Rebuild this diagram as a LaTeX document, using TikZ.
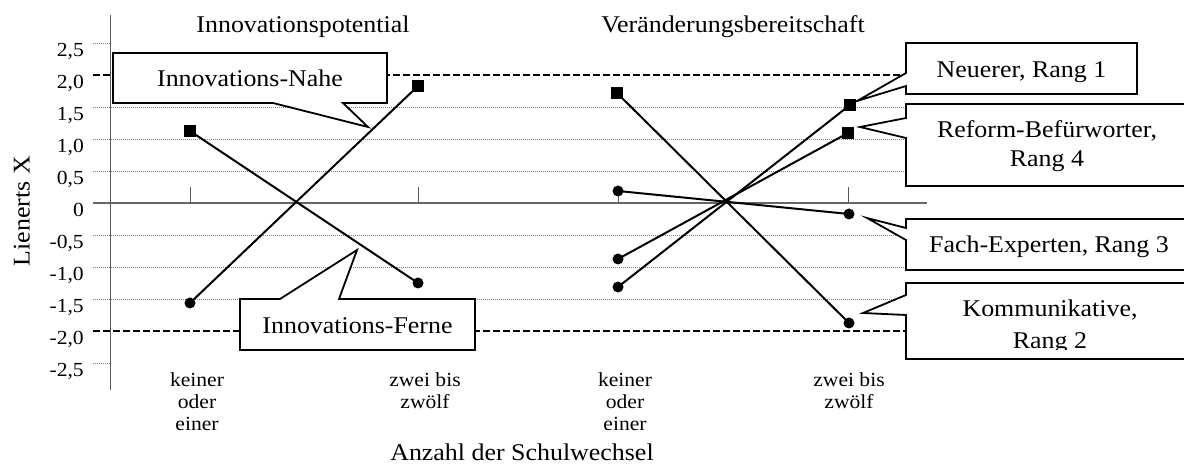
\documentclass[tikz,border=0pt]{standalone}
\usepackage{fontspec}
\setmainfont{Liberation Serif}[FakeStretch=1.08]
\begin{document}
\begin{tikzpicture}[x=1pt,y=-1pt,
  gridl/.style={gray, line width=0.8pt, dash pattern=on 1pt off 1pt},
  twoline/.style={black, line width=1.7pt, dash pattern=on 6.5pt off 3.5pt},
  axisl/.style={gray!70!black, line width=1pt},
  zerol/.style={gray!80!black, line width=1.6pt},
  dataline/.style={black, line width=2pt},
  sq/.style={fill=black, rectangle, minimum size=12pt, inner sep=0pt},
  dot/.style={fill=black, circle, minimum size=11pt, inner sep=0pt},
  callout/.style={draw=black, line width=1.8pt, fill=white, line join=miter},
  ctext/.style={font=\fontsize{24}{30}\selectfont, anchor=base, inner sep=0pt},
  ylab/.style={font=\fontsize{20}{24}\selectfont, anchor=base east, inner sep=0pt},
  ttl/.style={font=\fontsize{24}{28}\selectfont, anchor=base, inner sep=0pt},
  cat/.style={font=\fontsize{20}{22}\selectfont, align=center, anchor=north, inner sep=0pt}]
\clip (0,0) rectangle (1184,470);

% grid lines
\foreach \v in {1.5,1,0.5,-0.5,-1,-1.5}
  \draw[gridl] (93,{203-64*\v}) -- (927,{203-64*\v});
\draw[gridl] (93,43) -- (110,43);
\draw[gridl] (93,363) -- (110,363);
\draw[twoline] (93,75) -- (927,75);
\draw[twoline] (93,331) -- (927,331);
\draw[zerol] (93,203) -- (927,203);
\draw[axisl] (110,15) -- (110,390);
\foreach \x in {190,418,618,848}
  \draw[axisl] (\x,187) -- (\x,203);

% y tick labels
\node[ylab] (y25) at (84,56.5) {2,5};
\node[ylab] (y20) at (84,88.5) {2,0};
\node[ylab] (y15) at (84,120.5) {1,5};
\node[ylab] (y10) at (84,152.5) {1,0};
\node[ylab] (y05) at (84,184.5) {0,5};
\node[ylab] (y00) at (84,216.5) {0};
\node[ylab] (ym05) at (84,248.5) {-0,5};
\node[ylab] (ym10) at (84,280.5) {-1,0};
\node[ylab] (ym15) at (84,312.5) {-1,5};
\node[ylab] (ym20) at (84,344.5) {-2,0};
\node[ylab] (ym25) at (84,376.5) {-2,5};

\node[ctext, rotate=90] (ytitle) at (29.5,211) {Lienerts X};

% titles
\node[ttl] (t1) at (303,33) {Innovationspotential};
\node[ttl] (t2) at (733,33) {Veränderungsbereitschaft};

% category labels
\node[cat] (c1) at (197,372.3) {keiner\\oder\\einer};
\node[cat] (c2) at (425,372.3) {zwei bis\\zwölf};
\node[cat] (c3) at (625,372.3) {keiner\\oder\\einer};
\node[cat] (c4) at (849,372.3) {zwei bis\\zwölf};
\node[ttl] (xtitle) at (522,460) {Anzahl der Schulwechsel};

% data markers
\node[sq] (A1) at (190,131) {};
\node[dot] (A2) at (418,283) {};
\node[dot] (B1) at (190,303) {};
\node[sq] (B2) at (418,86) {};
\node[sq] (C1) at (617,93) {};
\node[dot] (C2) at (849,323) {};
\node[dot] (D1) at (618,191) {};
\node[dot] (D2) at (849,214) {};
\node[dot] (E1) at (618,259) {};
\node[sq] (E2) at (848,133) {};
\node[dot] (F1) at (618,287) {};
\node[sq] (F2) at (850,105) {};
\foreach \a/\b in {A1/A2,B1/B2,C1/C2,D1/D2,E1/E2,F1/F2}
  \draw[dataline] (\a.center) -- (\b.center);

% callouts
\draw[callout] (113,53) -- (387,53) -- (387,103) -- (343,103) -- (368,127) -- (273,103) -- (113,103) -- cycle;
\node[ctext] (nahe) at (250,86.5) {Innovations-Nahe};

\draw[callout] (240,299) -- (280,299) -- (357,250) -- (339,299) -- (475,299) -- (475,350) -- (240,350) -- cycle;
\node[ctext] (ferne) at (357.5,334) {Innovations-Ferne};

\draw[callout] (906,43) -- (1137,43) -- (1137,94) -- (906,94) -- (906,86) -- (857,101) -- (906,73) -- cycle;
\node[ctext] (neu) at (1021.5,77.7) {Neuerer, Rang 1};

\draw[callout] (906,104) -- (1192,104) -- (1192,186) -- (906,186) -- (906,138) -- (860,127) -- (906,118) -- cycle;
\node[ctext] (ref1) at (1047,137.7) {Reform-Befürworter,};
\node[ctext] (ref2) at (1047,166.7) {Rang 4};

\draw[callout] (906,219) -- (1192,219) -- (1192,270) -- (906,270) -- (906,240) -- (867,218) -- (906,228) -- cycle;
\node[ctext] (fach) at (1049,253) {Fach-Experten, Rang 3};

\draw[callout] (906,283) -- (1192,283) -- (1192,359) -- (906,359) -- (906,315) -- (863,313) -- (906,295) -- cycle;
\node[ctext] (kom1) at (1050,316.7) {Kommunikative,};
\begin{scope}
  \clip (906,283) rectangle (1192,350);
  \node[ctext] (kom2) at (1050,348.3) {Rang 2};
\end{scope}
\end{tikzpicture}
\end{document}
